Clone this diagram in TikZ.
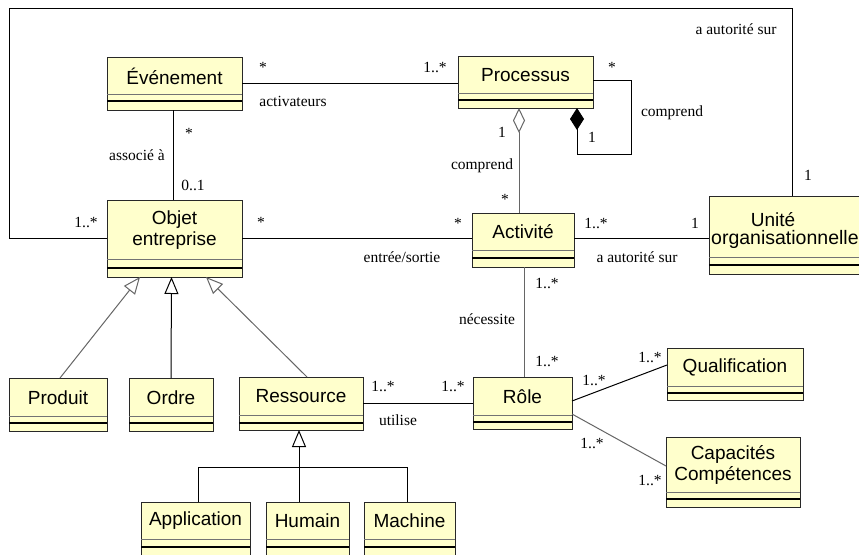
\documentclass[tikz,border=0pt]{standalone}
\usepackage{fontspec}
\setmainfont{Liberation Serif}
\newfontfamily\clsfont{Liberation Sans}
\usetikzlibrary{arrows.meta}
\definecolor{boxfill}{RGB}{255,255,204}
\definecolor{boxline}{RGB}{40,40,40}
\tikzset{
  classbox/.style={draw=boxline, fill=boxfill, line width=1pt, inner sep=0pt, outer sep=0pt, rectangle},
  classname/.style={font=\clsfont\fontsize{19}{20.5}\selectfont, align=center, inner sep=0pt},
  lbl/.style={font=\fontsize{15.5}{17}\selectfont, inner sep=0pt},
  assoc/.style={line width=1pt, draw=black},
  assocg/.style={line width=1pt, draw=black!60},
  gen/.style={line width=1pt, -{Triangle[open, length=17pt, width=14pt, fill=white]}},
}
\newcommand\umlclass[8]{%
  \node[classbox, anchor=north west, minimum width={(#4-#2)*1pt}, minimum height={(#7-#3)*1pt}] (#1) at (#2,#3) {};
  \draw[line width=0.8pt, draw=black!55] (#2,#5) -- (#4,#5);
  \draw[line width=1.6pt, draw=black] (#2,#6) -- (#4,#6);
  \node[classname] (#1-t) at ({(#2+#4)/2},{(#3+#5)/2+0.5}) {#8};
}
\begin{document}
\begin{tikzpicture}[x=1pt,y=-1pt]
\useasboundingbox (0,0) rectangle (859,554);
\fill[white] (0,0) rectangle (859,554);
\clip (0,0) rectangle (859,554);

% classes
\umlclass{evt}{107}{57}{242}{94}{101}{110}{Événement}
\umlclass{proc}{458}{56}{593}{93}{100}{108}{Processus}
\umlclass{obj}{107}{200}{242}{259}{268}{277}{Objet\\entreprise}
\umlclass{act}{472}{213}{574}{250}{258}{267}{Activité}
\umlclass{unite}{709}{196}{875}{257}{265}{274}{}
\node[classname, anchor=base] (unite-t1) at (773,226) {Unité};
\node[classname, font=\clsfont\fontsize{19.5}{20}\selectfont, anchor=base west] (unite-t2) at (711,244) {organisationnelle};
\umlclass{prod}{9}{378}{107}{416}{423}{431}{Produit}
\umlclass{ordre}{129}{378}{213}{416}{423}{431}{Ordre}
\umlclass{res}{239}{377}{363}{415}{423}{430}{Ressource}
\umlclass{role}{473}{377}{572}{415}{422}{429}{Rôle}
\umlclass{qual}{667}{348}{803}{386}{393}{400}{Qualification}
\umlclass{cap}{666}{437}{800}{492}{499}{507}{Capacités\\Compétences}
\umlclass{app}{141}{502}{250}{539}{547}{558}{Application}
\umlclass{hum}{266}{502}{349}{539}{547}{558}{Humain}
\umlclass{mach}{364}{502}{455}{539}{547}{558}{Machine}

% coordinates
\coordinate (c1) at (9,8);
\coordinate (c2) at (792,8);
\coordinate (lp1) at (631,154);
\coordinate (rj) at (299,467);

% associations
\draw[assoc] (evt.east) -- (evt.east -| proc.west);
\draw[assoc] ([xshift=-1.5pt]evt.south) -- ([xshift=-1.5pt]obj.north);
\draw[assoc] (obj.west) -| (c1) -- (c2) -- (c2 |- unite.north);
\draw[assoc] (obj.east) -- (obj.east -| act.west);
\draw[assoc] ([yshift=2pt]act.east) -- ([yshift=2pt]act.east -| unite.west);
\draw[assocg, {Diamond[open, length=25pt, width=12pt, fill=white]}-] ([xshift=-6.5pt]proc.south) -- ([xshift=-4pt]act.north);
\draw[assoc, -{Diamond[length=22pt, width=14pt]}] ([yshift=2pt]proc.east) -| (lp1) -| ([xshift=51.5pt]proc.south);
\draw[assocg] ([xshift=1.5pt]act.south) -- ([xshift=1.5pt]act.south |- role.north);
\draw[assoc] (res.east) -- (res.east -| role.west);
\draw[assoc] ([yshift=2pt]role.east) -- ([yshift=9pt]qual.west);
\draw[assocg] ([yshift=-11pt]role.east) -- ([yshift=6pt]cap.west);

% generalizations
\draw[gen, draw=black!60] ([xshift=2pt]prod.north) -- ([xshift=-34.5pt]obj.south);
\draw[gen, draw=black] (ordre.north) -- ([xshift=-3pt]obj.south);
\draw[gen, draw=black!60] ([xshift=6pt]res.north) -- ([xshift=31.5pt]obj.south);
\draw[gen, draw=black] (hum.north -| rj) -- (res.south -| rj);
\draw[line width=1pt] ([xshift=2.5pt]app.north) |- ([xshift=-2.5pt]mach.north |- rj) -- ([xshift=-2.5pt]mach.north);

% labels
\node[lbl] (l1) at (263,67) {*};
\node[lbl] (l2) at (435,67) {1..*};
\node[lbl] (l3) at (293,101) {activateurs};
\node[lbl] (l4) at (189,133) {*};
\node[lbl] (l5) at (137,155) {associé à};
\node[lbl] (l6) at (193,185) {0..1};
\node[lbl] (l7) at (86,222) {1..*};
\node[lbl] (l8) at (261,222) {*};
\node[lbl] (l9) at (402,257) {entrée/sortie};
\node[lbl] (l10) at (458,223) {*};
\node[lbl] (l11) at (612,67) {*};
\node[lbl] (l12) at (672,113) {comprend};
\node[lbl] (l13) at (502,132) {1};
\node[lbl] (l14) at (592,137) {1};
\node[lbl] (l15) at (482,166) {comprend};
\node[lbl] (l16) at (505,199) {*};
\node[lbl] (l17) at (596,223) {1..*};
\node[lbl] (l18) at (695,223) {1};
\node[lbl] (l19) at (637,257) {a autorité sur};
\node[lbl] (l20) at (736,29) {a autorité sur};
\node[lbl] (l21) at (808,175) {1};
\node[lbl] (l22) at (547,283) {1..*};
\node[lbl] (l23) at (487,319) {nécessite};
\node[lbl] (l24) at (547,361) {1..*};
\node[lbl] (l25) at (383,386) {1..*};
\node[lbl] (l26) at (398,420) {utilise};
\node[lbl] (l27) at (453,386) {1..*};
\node[lbl] (l28) at (594,380) {1..*};
\node[lbl] (l29) at (650,357) {1..*};
\node[lbl] (l30) at (592,443) {1..*};
\node[lbl] (l31) at (650,480) {1..*};
\end{tikzpicture}
\end{document}
